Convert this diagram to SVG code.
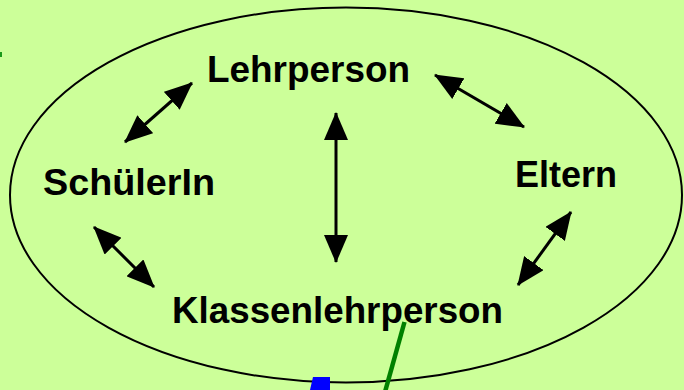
<svg xmlns="http://www.w3.org/2000/svg" width="684" height="390" viewBox="0 0 684 390">
<defs>
<style>
.lbl{font-family:"Liberation Sans",Arial,Helvetica,sans-serif;font-weight:bold;font-size:36px;fill:#000}
.conn line{stroke:#000;stroke-width:3;marker-start:url(#ah);marker-end:url(#ah)}
</style>
<marker id="ah" markerUnits="userSpaceOnUse" markerWidth="28" markerHeight="24" viewBox="0 0 28 24" refX="27" refY="12" orient="auto-start-reverse"><path d="M0,0 L28,12 L0,24 z" fill="#000"/></marker>
</defs>
<rect width="684" height="390" fill="#CCFF99"/>
<rect x="0" y="52" width="2" height="5" fill="#1a9a1a"/>
<g id="boundary"><ellipse cx="346" cy="195" rx="336" ry="187.5" fill="none" stroke="#000" stroke-width="2"/></g>
<g id="lehrperson"><text class="lbl" x="207" y="82" textLength="203" lengthAdjust="spacingAndGlyphs">Lehrperson</text></g>
<g id="schuelerin"><text class="lbl" x="43" y="195" textLength="172" lengthAdjust="spacingAndGlyphs">SchülerIn</text></g>
<g id="eltern"><text class="lbl" x="515" y="187" textLength="102" lengthAdjust="spacingAndGlyphs">Eltern</text></g>
<g id="klassenlehrperson"><text class="lbl" x="172" y="323" textLength="331" lengthAdjust="spacingAndGlyphs">Klassenlehrperson</text></g>
<g id="connectors" class="conn">
<line x1="125" y1="142" x2="192" y2="83"/>
<line x1="435" y1="75" x2="524" y2="127"/>
<line x1="336" y1="113" x2="336" y2="262"/>
<line x1="94" y1="227" x2="154" y2="287"/>
<line x1="571" y1="212" x2="518" y2="285"/>
</g>
<polygon points="313,377 330,377 330,390 310,390" fill="#0000FF"/>
<line x1="404.5" y1="322" x2="385" y2="392" stroke="#008000" stroke-width="4.5"/>
</svg>
